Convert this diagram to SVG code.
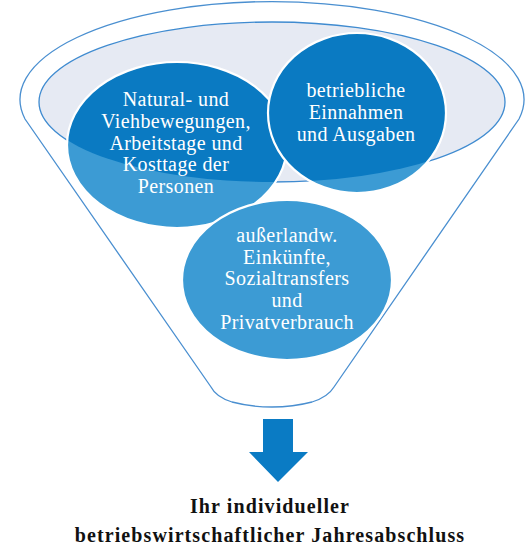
<svg xmlns="http://www.w3.org/2000/svg" width="529" height="547" viewBox="0 0 529 547">
<style>
.funnel{fill:#ffffff;stroke:#4A8FD0;stroke-width:1.3}
.rim{fill:#E6EAF3;stroke:#3F8BD0;stroke-width:1.3}
.light{fill:#3C9BD4}
.dark{fill:#0A7AC2}
.edge{fill:none;stroke:#ffffff;stroke-width:2.2}
.ct{font-family:"Liberation Serif","Times New Roman",serif;font-size:20px;fill:#ffffff;text-anchor:middle;letter-spacing:0.4px}
.bt{font-family:"Liberation Serif","Times New Roman",serif;font-size:20px;font-weight:bold;fill:#111111;text-anchor:middle;letter-spacing:1.1px}
.arrow{fill:#0A7BC4}
</style>
<defs>
<clipPath id="rimclip"><ellipse cx="272" cy="102" rx="233" ry="80"/></clipPath>
</defs>
<g id="funnel">
<path class="funnel" d="M 25 119 A 252 98 0 1 1 519 119 L 334 387 Q 328 397 312 402 Q 293 407 272 407 Q 251 407 232 402 Q 216 397 211 387 Z"/>
<ellipse class="rim" cx="272" cy="102" rx="233" ry="80"/>
</g>
<g id="node-natural">
<ellipse class="light" cx="177" cy="145" rx="110" ry="83"/>
<ellipse class="dark" cx="177" cy="145" rx="110" ry="83" clip-path="url(#rimclip)"/>
<ellipse class="edge" cx="177" cy="145" rx="110" ry="83"/>
<text class="ct" x="176" y="106">Natural- und</text>
<text class="ct" x="176" y="128">Viehbewegungen,</text>
<text class="ct" x="176" y="149.5">Arbeitstage und</text>
<text class="ct" x="176" y="171">Kosttage der</text>
<text class="ct" x="176" y="193">Personen</text>
</g>
<g id="node-betrieblich">
<ellipse class="light" cx="357" cy="113" rx="89" ry="80"/>
<ellipse class="dark" cx="357" cy="113" rx="89" ry="80" clip-path="url(#rimclip)"/>
<ellipse class="edge" cx="357" cy="113" rx="89" ry="80"/>
<text class="ct" x="356" y="97">betriebliche</text>
<text class="ct" x="356" y="119">Einnahmen</text>
<text class="ct" x="356" y="140.5">und Ausgaben</text>
</g>
<g id="node-ausserlandw">
<ellipse class="light" cx="287" cy="280" rx="105" ry="80"/>
<ellipse class="edge" cx="287" cy="280" rx="105" ry="80"/>
<text class="ct" x="287" y="242">außerlandw.</text>
<text class="ct" x="287" y="263.5">Einkünfte,</text>
<text class="ct" x="287" y="285">Sozialtransfers</text>
<text class="ct" x="287" y="307">und</text>
<text class="ct" x="287" y="328.5">Privatverbrauch</text>
</g>
<g id="connectors">
<polygon class="arrow" points="263,419 293,419 293,452 308,452 278,482 249,452 263,452"/>
</g>
<g id="node-result">
<text class="bt" x="270" y="512.5">Ihr individueller</text>
<text class="bt" x="270" y="542">betriebswirtschaftlicher Jahresabschluss</text>
</g>
</svg>
